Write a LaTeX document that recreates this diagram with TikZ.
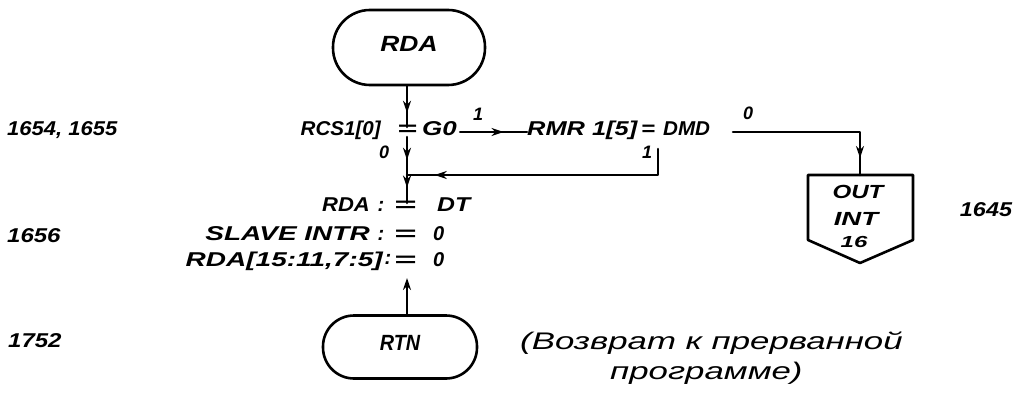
\documentclass[tikz,border=0pt]{standalone}
\usepackage{fontspec}
\usepackage{graphicx}
\setmainfont{Liberation Sans}
\usetikzlibrary{decorations.markings,arrows.meta}
\newcommand{\hsc}[2]{\scalebox{#1}[1]{#2}}
\tikzset{
  ln/.style={line width=2.6pt, line cap=round, line join=round},
  lbl/.style={font=\bfseries\itshape\fontsize{20}{20}\selectfont, inner sep=0pt, text height=0.72em, text depth=0pt},
  sml/.style={font=\bfseries\itshape\fontsize{18}{18}\selectfont, inner sep=0pt, text height=0.72em, text depth=0pt},
  box/.style={font=\bfseries\itshape\fontsize{19}{19}\selectfont, inner sep=0pt, text height=0.72em, text depth=0pt},
  cmt/.style={font=\itshape\fontsize{24}{24}\selectfont, inner sep=0pt, text height=0.72em, text depth=0pt},
  term/.style={draw, line width=2.6pt, inner sep=0pt, text height=0.72em, text depth=0pt},
  midarrow/.style={postaction={decorate}, decoration={markings, mark=at position #1 with {\arrow{Stealth[length=12pt,width=8pt]}}}},
}
\begin{document}
\begin{tikzpicture}[x=1pt,y=-1pt]
\useasboundingbox (0,0) rectangle (1025,393);
% terminals
\node[term, rounded corners=37pt, minimum width=152pt, minimum height=75pt,
      font=\bfseries\itshape\fontsize{22}{22}\selectfont] (rda) at (409,47.5) {\hsc{1.2}{RDA}};
\node[term, rounded corners=31pt, minimum width=154pt, minimum height=63pt,
      font=\bfseries\itshape\fontsize{22}{22}\selectfont] (rtn) at (400,347) {\hsc{0.9}{RTN}};
% main row
\node[lbl] (eq1) at (407,132) {\hsc{1.7}{=}};
\node[lbl, anchor=east] (rcs) at (381,132) {\hsc{1.03}{RCS1[0]}};
\node[lbl, anchor=west] (g0) at (422,132) {\hsc{1.3}{G0}};
\node[lbl, anchor=west] (rmr) at (527,132) {\hsc{1.27}{RMR 1[5]}};
\node[lbl] (eq2) at (648,132) {\hsc{1.2}{=}};
\node[lbl, anchor=west] (dmd) at (663,132) {\hsc{1.03}{DMD}};
\node[sml] (one1) at (478,117) {1};
\node[sml] (zero1) at (748,116) {0};
\node[sml] (zero2) at (384,155) {0};
\node[sml] (one2) at (647,155) {1};
% coordinates
\coordinate (j1) at (407,175);
\coordinate (r1) at (658,149);
\coordinate (d1) at (733,132);
\coordinate (outtop) at (860,175);
% assignments
\node[lbl] (as1) at (405,208) {\hsc{1.9}{=}};
\node[lbl] (co1) at (381,208) {:};
\node[lbl, anchor=east] (as1l) at (370,208) {\hsc{1.1}{RDA}};
\node[lbl, anchor=west] (as1r) at (437,208) {\hsc{1.24}{DT}};
\node[lbl] (as2) at (405,237) {\hsc{1.9}{=}};
\node[lbl] (co2) at (381,237) {:};
\node[lbl, anchor=east] (as2l) at (370,237) {\hsc{1.4}{SLAVE INTR}};
\node[lbl, anchor=west] (as2r) at (433,237) {0};
\node[lbl] (as3) at (405,263) {\hsc{1.9}{=}};
\node[lbl] (co3) at (388,261) {:};
\node[lbl, anchor=east] (as3l) at (383,263) {\hsc{1.4}{RDA[15:11,7:5]}};
\node[lbl, anchor=west] (as3r) at (433,263) {0};
% OUT box
\draw[ln] (808,175) -- (913,175) -- (913,240) -- (860,263) -- (808,240) -- cycle;
\node[box] (outt) at (858,195) {\hsc{1.27}{OUT}};
\node[box] (intt) at (856,222) {\hsc{1.45}{INT}};
\node[box, font=\bfseries\itshape\fontsize{16}{16}\selectfont] (sixt) at (854,244) {\hsc{1.5}{16}};
% left numbers
\node[lbl, anchor=west] (n1) at (7,132) {\hsc{1.1}{1654, 1655}};
\node[lbl, anchor=west] (n2) at (7,239) {\hsc{1.2}{1656}};
\node[lbl, anchor=west] (n3) at (8,344) {\hsc{1.2}{1752}};
\node[lbl] (n4) at (986,213) {\hsc{1.17}{1645}};
% comment
\node[cmt, anchor=west] (c1) at (520,346) {\hsc{1.45}{(Возврат к прерванной}};
\node[cmt, anchor=west] (c2) at (610,376) {\hsc{1.45}{программе)}};
% connectors
\draw[ln, midarrow=0.65] (rda.south -| eq1) -- ([yshift=5pt]eq1.center);
\draw[ln, midarrow=0.6] ([yshift=-5pt]eq1.center) -- (j1);
\draw[ln, midarrow=0.45] (j1) -- ([yshift=5pt]as1.center -| j1);
\draw[ln, midarrow=0.65] (g0.east) ++(3,0) -- (rmr.west);
\draw[ln, midarrow=0.9] (r1) |- (j1);
\draw[ln, midarrow=0.9] (d1) -| (outtop);
\draw[ln, -{Stealth[length=12pt,width=8pt]}] (rtn.north -| j1) -- ([yshift=-15pt]as3.center -| j1);
\end{tikzpicture}
\end{document}
